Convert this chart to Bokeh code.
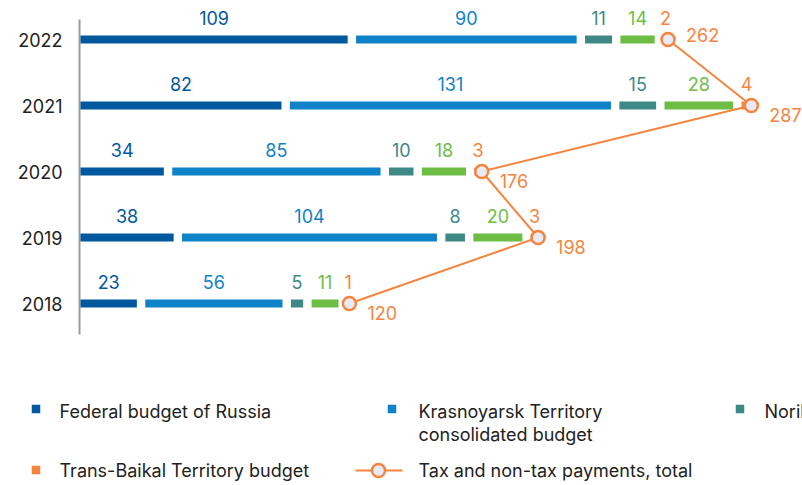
from bokeh.plotting import figure
from bokeh.models import Range1d
from bokeh.layouts import column
from bokeh.core.properties import value
from bokeh.embed import file_html
from bokeh.resources import INLINE

# ---- data ----
years = ["2018", "2019", "2020", "2021", "2022"]
federal = [23, 38, 34, 82, 109]
krasnoyarsk = [56, 104, 85, 131, 90]
norilsk = [5, 8, 10, 15, 11]
murmansk = [11, 20, 18, 28, 14]
transbaikal = [1, 3, 3, 4, 2]
totals = [120, 198, 176, 287, 262]

series = [federal, krasnoyarsk, norilsk, murmansk, transbaikal]
colors = ["#00589f", "#0f83c7", "#3e8886", "#6dbd45", "#f5843f"]
ORANGE = "#f5843f"
FONT = "Inter"

PX_X = 2.451      # pixels per unit
PX_Y = 66.0       # pixels per row
GAP = 8.4 / PX_X  # gap between segments in data units
W = 802
H1 = 358
H2 = 127

x0 = -80 / PX_X
p = figure(width=W, height=H1, output_backend="svg", toolbar_location=None,
           x_range=Range1d(x0, x0 + W / PX_X),
           y_range=Range1d(-(H1 - 303) / PX_Y, 303 / PX_Y),
           min_border=0, outline_line_color=None)
p.axis.visible = False
p.grid.visible = False
p.background_fill_color = "white"
p.border_fill_color = "white"

rows = list(range(len(years)))

# axis line
p.segment(x0=[-0.4], y0=[-(334 - 303) / PX_Y], x1=[-0.4], y1=[(303 - 19) / PX_Y],
          line_color="#9b9b9b", line_width=2)

# year labels
p.text(x=[0] * len(years), y=rows, text=years, x_offset=-18,
       text_align="right", text_baseline="middle",
       text_font=value(FONT), text_font_size="18px", text_color="#222222")

# stacked segments with gaps
ends = []
for r in rows:
    cum = 0.0
    for k, s in enumerate(series):
        v = s[r]
        left = cum
        right = cum + v
        p.hbar(y=[r], left=[left], right=[right], height=8 / PX_Y,
               fill_color=colors[k], line_color=None)
        p.text(x=[(left + right) / 2], y=[r + 22 / PX_Y], text=[str(v)],
               text_align="center", text_baseline="middle",
               text_font=value(FONT), text_font_size="18px", text_color=colors[k])
        cum = right + GAP
    ends.append(cum - GAP)

# totals line
p.line(x=ends, y=rows, line_color=ORANGE, line_width=2)
p.scatter(x=ends, y=rows, size=13, fill_color="#e8ebf5", line_color=ORANGE, line_width=2.5)
label_dy = [(-4.5 if r == rows[-1] else 9) / PX_Y for r in rows]
p.text(x=[e + 18 / PX_X for e in ends], y=[r - d for r, d in zip(rows, label_dy)],
       text=[str(t) for t in totals], text_align="left", text_baseline="middle",
       text_font=value(FONT), text_font_size="18px", text_color=ORANGE)

# ---- legend (separate figure, page-pixel coordinates) ----
lg = figure(width=W, height=H2, output_backend="svg", toolbar_location=None,
            x_range=Range1d(0, W), y_range=Range1d(H1 + H2, H1),
            min_border=0, outline_line_color=None)
lg.axis.visible = False
lg.grid.visible = False

sq_x = [35.5, 391.5, 739.5, 35.5]
sq_y = [408.5, 408.5, 408.5, 469.5]
sq_c = [colors[0], colors[1], colors[2], colors[4]]
lg.rect(x=sq_x, y=sq_y, width=8.5, height=8.5, fill_color=sq_c, line_color=None)

txt_x = [59, 418, 418, 764, 59, 418]
txt_y = [411, 411, 433.5, 411, 470, 470]
txt = ["Federal budget of Russia", "Krasnoyarsk Territory", "consolidated budget",
       "Norilsk budget", "Trans-Baikal Territory budget", "Tax and non-tax payments, total"]
lg.text(x=txt_x, y=txt_y, text=txt, text_align="left", text_baseline="middle",
        text_font=value(FONT), text_font_size="18px", text_color="#222222")

lg.segment(x0=[355], y0=[470], x1=[402], y1=[470], line_color=ORANGE, line_width=2)
lg.scatter(x=[378], y=[470], size=13, fill_color="#e8ebf5", line_color=ORANGE, line_width=2.5)

layout = column(p, lg, spacing=0)
open("out.html", "w").write(file_html(layout, INLINE))
